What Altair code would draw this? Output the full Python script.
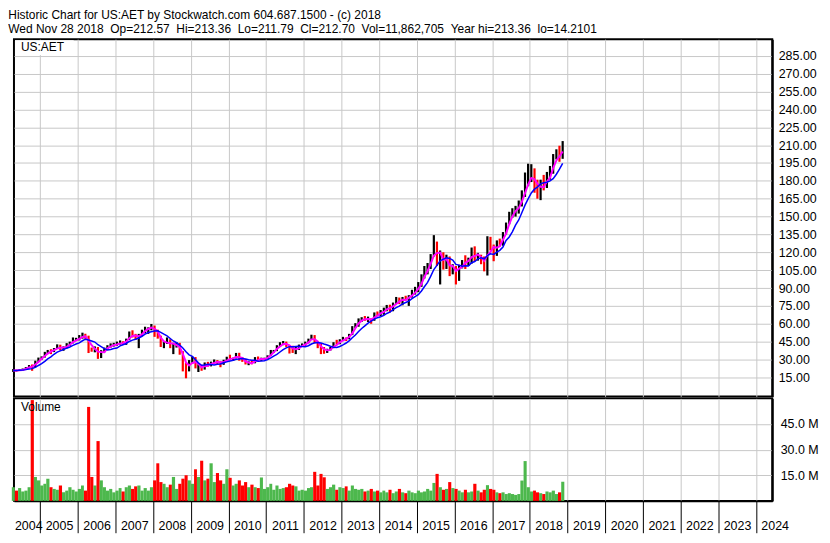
import altair as alt
import pandas as pd

FONT = "Liberation Sans"
START_MONTH = "2004-04-01"

# Monthly closes, Apr 2004 .. Nov 2018
close = [
    20.8, 20.5, 21.3, 21.6, 23.2, 25.0, 23.8, 28.6, 31.2,                     # 2004 Apr-Dec
    31.8, 35.5, 37.5, 36.7, 39.2, 41.4, 38.7, 39.8, 43.1, 44.3, 46.3, 47.2,   # 2005
    48.4, 50.9, 49.1, 38.5, 38.4, 39.9, 31.5, 37.2, 39.5, 41.2, 41.5, 43.2,   # 2006
    43.2, 44.1, 43.8, 46.9, 53.0, 49.4, 48.1, 50.9, 54.3, 56.2, 56.3, 57.7,   # 2007
    53.3, 49.6, 42.1, 43.6, 46.7, 40.5, 42.9, 43.0, 36.1, 24.9, 21.6, 28.5,   # 2008
    31.0, 23.9, 24.3, 22.0, 26.8, 25.1, 27.0, 29.0, 27.8, 26.0, 29.2, 31.7,   # 2009
    30.0, 31.0, 35.1, 29.5, 29.1, 26.4, 27.0, 26.8, 31.6, 29.9, 30.4, 30.5,   # 2010
    33.0, 37.4, 37.4, 41.4, 43.7, 44.1, 41.5, 40.0, 36.3, 39.8, 41.9, 42.2,   # 2011
    43.6, 46.9, 50.2, 44.0, 40.9, 38.8, 36.1, 38.4, 39.6, 43.7, 43.2, 46.3,   # 2012
    48.3, 47.3, 51.1, 57.4, 60.0, 63.5, 64.2, 63.8, 64.0, 62.7, 69.0, 68.6,   # 2013
    68.6, 72.7, 75.0, 71.5, 77.2, 81.1, 77.5, 81.6, 81.0, 82.5, 87.2, 88.8,   # 2014
    91.8, 99.7, 106.5, 106.8, 117.5, 127.5, 113.0, 118.9, 109.4, 114.8, 102.8, 108.1,  # 2015
    101.8, 108.8, 112.4, 112.3, 113.3, 122.1, 115.2, 117.2, 115.5, 106.1, 130.8, 124.0,  # 2016
    118.6, 128.9, 127.6, 135.0, 144.4, 151.8, 154.3, 157.8, 159.0, 170.0, 180.2, 180.4,  # 2017
    186.8, 177.0, 169.0, 179.0, 176.0, 183.5, 188.4, 200.3, 202.8, 198.4, 212.7,         # 2018 Jan-Nov
]

high = [
    22.0, 21.5, 21.9, 22.4, 23.6, 25.3, 25.8, 29.0, 31.6,
    32.6, 36.4, 38.0, 38.6, 39.6, 42.7, 42.4, 41.0, 43.7, 45.0, 48.5, 48.2,
    50.5, 52.5, 51.6, 50.0, 40.0, 41.0, 40.5, 37.8, 40.0, 42.0, 43.5, 44.0,
    45.0, 46.0, 45.3, 47.5, 53.5, 54.5, 51.5, 51.5, 55.0, 57.5, 57.0, 59.8,
    58.5, 55.0, 50.0, 45.5, 48.5, 47.0, 44.0, 44.5, 44.0, 37.0, 27.0, 29.5,
    32.5, 32.0, 26.0, 25.5, 27.5, 28.0, 28.2, 30.0, 29.5, 28.5, 29.8, 32.3,
    34.0, 31.5, 35.5, 35.6, 32.0, 30.5, 28.5, 29.5, 32.0, 32.5, 31.5, 31.5,
    33.5, 38.0, 38.0, 42.0, 44.5, 45.5, 45.0, 42.0, 41.5, 41.0, 42.5, 43.5,
    45.0, 47.5, 50.8, 50.5, 45.0, 43.5, 40.5, 39.0, 40.5, 44.5, 46.5, 47.0,
    49.0, 48.5, 51.5, 58.0, 60.5, 64.5, 65.5, 66.5, 66.0, 64.5, 69.5, 70.3,
    71.5, 73.5, 75.8, 76.0, 77.8, 82.5, 82.0, 82.5, 83.5, 84.0, 88.5, 91.0,
    95.0, 101.5, 108.5, 111.0, 118.5, 134.4, 129.0, 121.5, 120.0, 118.0, 116.5, 110.0,
    108.5, 109.5, 113.5, 117.5, 115.5, 124.0, 125.0, 119.5, 118.0, 116.5, 133.5, 133.0,
    126.5, 130.0, 131.5, 137.0, 145.0, 154.0, 157.0, 159.0, 163.5, 172.0, 187.0, 194.4,
    194.0, 190.5, 181.0, 181.0, 185.0, 187.5, 192.5, 202.5, 206.5, 209.5, 213.4,
]

low = [
    19.5, 19.8, 20.3, 20.6, 21.3, 22.9, 20.5, 23.5, 28.0,
    29.8, 31.6, 34.8, 34.5, 36.2, 38.9, 37.6, 37.3, 39.5, 41.5, 43.5, 45.5,
    46.0, 47.5, 47.3, 35.4, 36.5, 36.0, 30.5, 31.2, 36.0, 38.5, 40.0, 40.8,
    41.5, 42.5, 42.5, 42.3, 46.5, 48.5, 46.5, 39.5, 49.5, 52.0, 51.5, 54.5,
    49.0, 47.5, 40.5, 39.5, 43.0, 39.5, 34.5, 40.0, 34.0, 20.0, 14.2, 20.0,
    26.5, 22.5, 19.5, 20.5, 21.5, 24.0, 24.2, 26.5, 25.5, 23.5, 25.5, 28.8,
    29.5, 28.8, 31.0, 29.0, 28.0, 25.8, 25.2, 26.0, 26.8, 28.8, 28.8, 29.5,
    30.2, 33.0, 35.5, 37.0, 40.5, 42.0, 40.5, 35.0, 35.5, 34.5, 38.0, 40.5,
    41.5, 43.5, 46.5, 43.5, 39.5, 34.5, 34.8, 35.5, 37.5, 39.5, 42.5, 42.8,
    46.0, 45.5, 47.0, 50.5, 56.5, 57.5, 61.5, 62.5, 61.5, 60.0, 62.5, 66.5,
    66.5, 67.5, 70.5, 69.5, 70.5, 76.5, 76.5, 75.5, 79.5, 75.0, 82.0, 84.5,
    86.5, 91.0, 98.0, 101.5, 106.0, 116.5, 108.5, 93.0, 105.5, 106.0, 100.0, 101.5,
    93.0, 96.0, 106.5, 106.0, 108.5, 110.5, 112.5, 113.0, 110.0, 104.0, 100.5, 121.5,
    112.5, 117.0, 125.0, 125.5, 135.0, 143.5, 149.0, 150.0, 152.5, 158.5, 166.5, 175.5,
    179.0, 170.0, 165.0, 163.8, 172.0, 174.0, 181.0, 186.0, 198.0, 196.0, 198.5,
]

# Volume, millions of shares
volume = [
    8.0, 6.0, 7.5, 5.5, 6.0, 8.0, 59.0, 14.0, 12.0,
    9.0, 10.0, 13.0, 8.0, 7.0, 6.5, 9.0, 5.0, 6.0, 8.0, 6.5, 5.5,
    7.0, 9.0, 6.0, 55.0, 14.0, 9.0, 35.0, 12.0, 8.0, 6.0, 7.0, 5.0,
    6.0, 7.5, 5.5, 8.0, 9.0, 7.0, 8.5, 9.0, 6.0, 7.5, 6.0, 8.0,
    12.0, 22.0, 11.0, 10.0, 8.0, 9.5, 14.0, 7.0, 10.0, 13.0, 15.0, 12.0,
    10.0, 18.5, 14.0, 23.5, 12.0, 13.0, 22.0, 11.0, 16.3, 12.0, 10.0, 18.5,
    13.5, 9.0, 10.0, 12.0, 9.0, 11.0, 8.0, 9.5, 8.0, 7.5, 13.7, 7.0,
    8.0, 10.0, 6.5, 9.0, 7.0, 7.5, 8.0, 10.0, 9.0, 8.5, 6.0, 6.5,
    6.0, 7.5, 8.0, 17.0, 9.0, 15.8, 13.8, 7.0, 8.0, 9.5, 6.5, 8.0,
    7.5, 8.5, 6.0, 9.0, 7.0, 6.5, 7.0, 5.5, 6.0, 7.0, 5.5, 6.0,
    5.0, 6.0, 5.0, 6.5, 4.5, 5.5, 7.0, 5.0, 4.5, 6.0, 5.0, 4.5,
    6.0, 5.0, 5.5, 7.0, 6.0, 10.5, 15.8, 8.0, 6.5, 7.0, 11.0, 7.5,
    7.0, 6.0, 5.0, 6.5, 5.0, 5.5, 10.0, 6.0, 5.0, 6.5, 9.2, 7.0,
    6.5, 5.0, 4.5, 5.0, 4.0, 4.5, 4.0, 3.5, 4.0, 11.9, 23.3, 8.0,
    5.5, 6.0, 5.0, 4.5, 4.0, 5.5, 5.0, 6.0, 4.0, 5.0, 11.2,
]

price_ticks = list(range(15, 286, 15))
volume_ticks = [15, 30, 45]
tick_years = list(range(2005, 2025))
first_year_label = "2004"

NB = "\u00a0"
title_lines = [
    "Historic Chart for US:AET by Stockwatch.com 604.687.1500 - (c) 2018",
    f"Wed Nov 28 2018 {NB}Op=212.57 {NB}Hi=213.36 {NB}Lo=211.79 {NB}Cl=212.70 {NB}"
    f"Vol=11,862,705 {NB}Year hi=213.36 {NB}lo=14.2101",
]

# ---- table ----
n = len(close)
starts = pd.date_range(START_MONTH, periods=n, freq="MS")
ends = starts + pd.offsets.MonthBegin(1)
mids = starts + pd.Timedelta(days=14)
prev = [close[0]] + close[:-1]
direction = ["up" if c >= p else "down" for c, p in zip(close, prev)]
fmt = "%Y-%m-%dT%H:%M:%S"
df = pd.DataFrame({
    "start": starts.strftime(fmt),
    "end": ends.strftime(fmt),
    "mid": mids.strftime(fmt),
    "close": close,
    "high": high,
    "low": low,
    "vol": volume,
    "dir": direction,
    "vdir": direction,
})

W = 762
HP = 359
HV = 103
GRID = "#C8C8C8"

domain_start = alt.DateTime(year=2004, month=4, date=22)
x_scale = alt.Scale(domain=[domain_start, alt.DateTime(year=2024, month=6, date=8)])
year_vals = [alt.DateTime(year=y, month=1, date=1) for y in tick_years]

x_top_axis = alt.Axis(values=year_vals, tickCount=40, labels=False, ticks=False, domain=False,
                      grid=True, gridColor=GRID, gridWidth=1, title=None)

price_y = alt.Y("low:Q", scale=alt.Scale(domain=[-1, 299], nice=False, zero=False),
                axis=alt.Axis(orient="right", values=price_ticks, tickCount=40, format=".2f",
                              grid=True, gridColor=GRID, ticks=False, domain=True,
                              domainColor="black", domainWidth=2, labelPadding=6,
                              labelOverlap=False, labelFontSize=12.5, title=None))

base = alt.Chart(df)

bars = base.mark_rule(strokeWidth=2.2).encode(
    x=alt.X("mid:T", scale=x_scale, axis=x_top_axis),
    y=price_y,
    y2="high:Q",
    color=alt.Color("dir:N", scale=alt.Scale(domain=["up", "down"], range=["#000000", "#FF0000"]),
                    legend=None),
)

fast = base.transform_window(
    ma="mean(close)", frame=[-2, 0], sort=[alt.SortField("mid")]
).mark_line(color="#FF00FF", strokeWidth=2).encode(
    x=alt.X("mid:T", scale=x_scale), y=alt.Y("ma:Q")
)

slow = base.transform_window(
    ma="mean(close)", frame=[-6, 0], sort=[alt.SortField("mid")]
).mark_line(color="#0000FF", strokeWidth=1.5).encode(
    x=alt.X("mid:T", scale=x_scale), y=alt.Y("ma:Q")
)

label_df = pd.DataFrame({"t": ["US:AET"]})
box = alt.Chart(label_df).mark_rect(color="white").encode(
    x=alt.value(1), x2=alt.value(60), y=alt.value(1), y2=alt.value(16)
)
sym = alt.Chart(label_df).mark_text(align="left", baseline="top", font=FONT, fontSize=12,
                                    color="black").encode(
    x=alt.value(7), y=alt.value(3), text="t:N"
)

price = alt.layer(bars, fast, slow, box, sym).properties(width=W, height=HP)

x_bottom_axis = alt.Axis(
    values=year_vals,
    tickCount=40,
    labelExpr="timeFormat(datum.value, '%Y')",
    grid=True, gridColor=GRID, ticks=True, tickSize=32, tickColor="black", tickWidth=1,
    domain=True, domainColor="black", domainWidth=2,
    labelAlign="center", labelOffset=18.9, labelPadding=-13, labelFlush=False,
    labelOverlap=False, labelFontSize=12.5, title=None,
)

vbars = base.mark_bar().encode(
    x=alt.X("start:T", scale=x_scale, axis=x_bottom_axis),
    x2="end:T",
    y=alt.Y("vol:Q", scale=alt.Scale(domain=[0, 60], nice=False),
            axis=alt.Axis(orient="right", values=volume_ticks, tickCount=10,
                          labelExpr="format(datum.value, '.1f') + ' M'", grid=True,
                          gridColor=GRID, ticks=False, domain=True, domainColor="black",
                          domainWidth=2, labelPadding=8, labelFontSize=12.5, title=None)),
    y2=alt.datum(0),
    color=alt.Color("vdir:N", scale=alt.Scale(domain=["up", "down"], range=["#4DB84D", "#FF0000"]),
                    legend=None),
)

vol_df = pd.DataFrame({"t": ["Volume"]})
vol_label = alt.Chart(vol_df).mark_text(align="left", baseline="top", font=FONT, fontSize=12,
                                        color="black").encode(
    x=alt.value(7), y=alt.value(4), text="t:N"
)

first_df = pd.DataFrame({"t": [first_year_label]})
first_label = alt.Chart(first_df).mark_text(align="left", baseline="top", font=FONT,
                                            fontSize=12.5, color="black", dx=1).encode(
    x=alt.datum(domain_start), y=alt.value(HV + 19), text="t:N"
)

vol_chart = alt.layer(vbars, vol_label, first_label).properties(width=W, height=HV)

chart = alt.vconcat(price, vol_chart, spacing=0).resolve_scale(color="independent").properties(
    title=alt.TitleParams(text=title_lines, anchor="start", font=FONT, fontSize=12,
                          fontWeight="normal", color="black", lineHeight=14, offset=2),
    padding={"left": 0, "top": 0, "right": 2, "bottom": 0},
    background="white",
).configure_view(
    stroke="black", strokeWidth=2
).configure_axis(
    labelFont=FONT, labelFontSize=12, labelColor="black"
)

chart.save("out.html", embed_options={"renderer": "svg", "actions": False})
